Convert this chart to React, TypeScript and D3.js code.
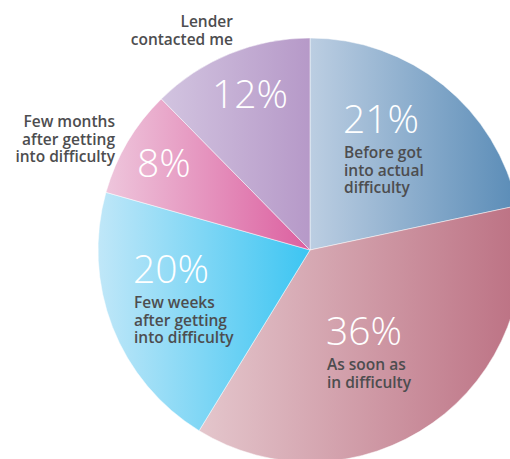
import React from 'react';
import * as d3 from 'd3';

const categories = [
  'Before got into actual difficulty',
  'As soon as in difficulty',
  'Few weeks after getting into difficulty',
  'Few months after getting into difficulty',
  'Lender contacted me',
];
const shares = [21, 36, 20, 8, 12];
const pctLabels = ['21%', '36%', '20%', '8%', '12%'];
const labelLines = [
  ['Before got', 'into actual', 'difficulty'],
  ['As soon as', 'in difficulty'],
  ['Few weeks', 'after getting', 'into difficulty'],
  ['Few months', 'after getting', 'into difficulty'],
  ['Lender', 'contacted me'],
];
const gradFrom = ['#bccee2', '#e4c6cc', '#c0e7f8', '#eec6dc', '#d2c4e0'];
const gradTo = ['#5a8cb7', '#bc7183', '#3cc5f2', '#dc5f9f', '#b699c8'];

// label placement, relative to pie centre (inside: left aligned below %, outside: right aligned)
const layout = [
  { px: 33, py: -117, inside: true },
  { px: 16, py: 95, inside: true },
  { px: -177, py: 33, inside: true },
  { px: -173, py: -73, inside: false, lx: -195, ly: -123 },
  { px: -98, py: -142, inside: false, lx: -77, ly: -223 },
];

const W = 510;
const H = 459;
const cx = 310;
const cy = 250;
const R = 212;

const App: React.FC = () => {
  const pie = d3.pie<number>().sort(null).value(d => d)(shares);
  const arc = d3.arc<d3.PieArcDatum<number>>().innerRadius(0).outerRadius(R);
  const font = "'Open Sans', 'Noto Sans', sans-serif";

  return (
    <svg width={W} height={H} style={{ position: 'absolute', left: 0, top: 0 }}>
      <defs>
        {shares.map((_, i) => (
          <linearGradient key={i} id={`g${i}`} x1="0%" y1="0%" x2="100%" y2="0%">
            <stop offset="0%" stopColor={gradFrom[i]} />
            <stop offset="100%" stopColor={gradTo[i]} />
          </linearGradient>
        ))}
      </defs>
      <g transform={`translate(${cx},${cy})`}>
        {pie.map((p, i) => (
          <path key={categories[i]} d={arc(p) || ''} fill={`url(#g${i})`}
            stroke="#ffffff" strokeOpacity={0.6} strokeWidth={0.8} />
        ))}
        {pie.map((p, i) => {
          const L = layout[i];
          return (
            <g key={'t' + i} fontFamily={font}>
              <text x={L.px} y={L.py} fill="#ffffff" fontSize={39} fontWeight={300}>
                {pctLabels[i]}
              </text>
              {labelLines[i].map((line, j) => (
                <text key={j}
                  x={L.inside ? L.px + 1 : L.lx}
                  y={L.inside ? L.py + 25 + j * 17.5 : (L.ly as number) + j * 17.5}
                  textAnchor={L.inside ? 'start' : 'end'}
                  fill="#4d4d4f" fontSize={15.5} fontWeight={600}>
                  {line}
                </text>
              ))}
            </g>
          );
        })}
      </g>
    </svg>
  );
};

export default App;
